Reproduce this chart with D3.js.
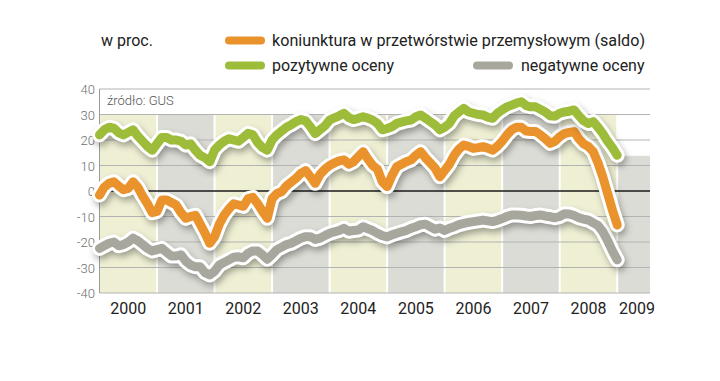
<!DOCTYPE html>
<html><head><meta charset="utf-8">
<script src="https://cdn.jsdelivr.net/npm/d3@7"></script>
<style>body{margin:0;background:#fff}svg{display:block}text{font-family:Roboto,"Open Sans",sans-serif}</style>
</head><body>
<svg id="c" width="720" height="381"></svg>
<script>
const years = [2000,2001,2002,2003,2004,2005,2006,2007,2008,2009];
const yTicks = [-40,-30,-20,-10,0,10,20,30,40];
const seriesNames = ["koniunktura w przetwórstwie przemysłowym (saldo)","pozytywne oceny","negatywne oceny"];
// monthly, Jan 2000 .. Jan 2009
const koniunktura = [-1.6,1.5,3,3.6,2,0.5,1,3.6,1.5,-2,-5,-8.5,
 -8,-3.5,-3.5,-4.5,-5.5,-8.5,-10.7,-10,-9.5,-13,-16.5,-20.5,
 -18,-13,-9.5,-7,-5,-5.5,-6,-3,-2.5,-5,-8,-10.7,
 -3,-1,-0.3,2,3.5,5,6.9,8,5.6,3,6.5,8.5,
 10,11,11.8,12.2,10.5,11.5,13.5,15.4,12.5,10,8.5,3.6,
 1.7,6,9.5,10.5,11.5,12.2,14,15.4,13,11,9,5.6,
 8,10.5,14,16.5,18,17.5,16.7,17,17.4,16.8,16,17.5,
 19.5,22,24,25,25,23.5,23.3,23.3,22,20.5,18.7,19.5,
 21.3,22.5,23,23.3,20.5,18.5,17.4,15.4,11,5.5,-1,-7.5,-13.3];
const pozytywne = [22,24,25,24.6,22.8,22,23,24,21.5,19.5,17.5,16,
 18.5,21,21,20,20,19.5,18,18.5,16,14,13,11.5,
 16,18,19.5,20.5,20,19.5,21,22.6,22,19,17,16,
 20,22,23.5,25,26,27.2,28,27.5,25.2,22.5,24,25.5,
 27.8,28.7,29.5,30.5,28.8,28,28.5,29.1,28.6,27.8,26.5,24,
 24.5,25.2,26.5,27,27.5,27.8,29.1,29.8,28.5,27.2,25.9,24,
 25,26.5,29.5,31,32.4,31,30.5,30,29.8,29,28.5,30.5,
 31.8,33,33.7,34.5,35,33.5,33,33,32,31,29.5,29.3,
 30.5,31,31.3,31.8,29.5,27.5,26.5,27.2,25,22.5,19.5,17,14];
const negatywne = [-22.5,-21.5,-20.5,-20,-21.5,-21,-20,-18.5,-19.5,-21,-22.5,-23.5,
 -23,-22.5,-24,-25.5,-25.5,-25,-27.5,-29,-29.7,-29.7,-32,-32.9,
 -31.5,-29,-28,-27,-26,-25.8,-26.2,-24.4,-23.5,-23.5,-25,-26.8,
 -25,-23,-22,-21,-20.5,-19.5,-18.5,-17.9,-17.9,-19,-18.5,-17.5,
 -16.6,-16,-15.5,-14.6,-15.8,-15.5,-15.3,-14,-14.8,-15.5,-16.6,-17.5,
 -18,-17.2,-16.6,-16,-15.5,-14.6,-14,-13.2,-13,-14,-15,-14.5,
 -15.5,-14.6,-14,-13.2,-12.7,-12.3,-12,-11.7,-11.4,-11.7,-12,-11.5,
 -10.8,-10,-9.4,-9.4,-9.5,-9.8,-10,-9.6,-9.4,-9.8,-10.1,-10.5,
 -10,-8.9,-9,-9.6,-10.5,-11,-11.4,-12.5,-13.5,-16,-19.5,-23.5,-27];

const svg = d3.select("#c");
const X0 = 99.5, X1 = 650;
const x = d3.scaleLinear().domain([2000, 2009.57]).range([X0, X1]);
const y = d3.scaleLinear().domain([-40, 40]).range([293, 89]);

const defs = svg.append("defs");
const f = defs.append("filter").attr("id","blur").attr("x","-10%").attr("y","-20%").attr("width","120%").attr("height","140%");
f.append("feGaussianBlur").attr("stdDeviation", 3.5);

// bands
years.forEach((yr, i) => {
  const top = yr === 2009 ? 13.8 : 30;
  const x0 = x(yr) + (i === 0 ? 0 : 1);
  const x1 = Math.min(x(yr + 1), X1) - (yr === 2009 ? 0 : 1);
  svg.append("rect").attr("x", x0).attr("y", y(top)).attr("width", x1 - x0).attr("height", y(-40) - y(top))
    .attr("fill", i % 2 === 0 ? "#eeefd3" : "#dcdcd6");
});

// grid
svg.append("g").selectAll("line").data(yTicks).join("line")
  .attr("x1", X0).attr("x2", X1).attr("y1", d => y(d)).attr("y2", d => y(d))
  .attr("stroke", d => d === 0 ? "#1a1a1a" : "#b3b3b3").attr("stroke-width", d => d === 0 ? 1.6 : 1);
svg.append("line").attr("x1", X0).attr("x2", X0).attr("y1", y(40)).attr("y2", y(-40)).attr("stroke", "#9a9a9a");

// y labels
svg.append("g").selectAll("text").data(yTicks).join("text")
  .attr("x", 95).attr("y", d => y(d) + 5).attr("text-anchor", "end")
  .attr("font-size", 13).attr("fill", "#6e6e6e").attr("font-weight", 300).text(d => d);

// x labels
svg.append("g").selectAll("text").data(years).join("text")
  .attr("x", d => d === 2009 ? 637 : x(d + 0.5)).attr("y", 314).attr("text-anchor", "middle")
  .attr("font-size", 16).attr("fill", "#222").text(d => d);

svg.append("text").attr("x", 107).attr("y", 105).attr("font-size", 13).attr("fill", "#555").attr("font-weight", 300).text("źródło: GUS");

// lines
const line = d3.line().x((d, i) => x(2000 + i / 12)).y(d => y(d)).curve(d3.curveLinear);
const series = [
  {v: negatywne, c: "#a8a79e"},
  {v: koniunktura, c: "#ea922b"},
  {v: pozytywne, c: "#9dbc3a"}
];
series.forEach(s => {
  const g = svg.append("g");
  g.append("path").attr("d", line(s.v)).attr("fill", "none").attr("stroke", "#000").attr("stroke-opacity", 0.35)
    .attr("stroke-width", 14).attr("stroke-linejoin", "round").attr("stroke-linecap", "round")
    .attr("transform", "translate(2,4)").attr("filter", "url(#blur)");
  g.append("path").attr("d", line(s.v)).attr("fill", "none").attr("stroke", "#fff")
    .attr("stroke-width", 15).attr("stroke-linejoin", "round").attr("stroke-linecap", "round");
  g.append("path").attr("d", line(s.v)).attr("fill", "none").attr("stroke", s.c)
    .attr("stroke-width", 9).attr("stroke-linejoin", "round").attr("stroke-linecap", "round");
});

// legend
svg.append("text").attr("x", 101).attr("y", 46).attr("font-size", 16).attr("fill", "#222").text("w proc.");
const leg = [
  {sx: 229, sy: 40.5, tx: 272, ty: 46, c: "#ea922b", t: seriesNames[0], w: 373},
  {sx: 229, sy: 65.5, tx: 272, ty: 71, c: "#9dbc3a", t: seriesNames[1]},
  {sx: 477, sy: 65.5, tx: 521, ty: 71, c: "#a8a79e", t: seriesNames[2]}
];
leg.forEach(l => {
  svg.append("line").attr("x1", l.sx).attr("x2", l.sx + 32).attr("y1", l.sy).attr("y2", l.sy)
    .attr("stroke", l.c).attr("stroke-width", 8).attr("stroke-linecap", "round");
  const t = svg.append("text").attr("x", l.tx).attr("y", l.ty).attr("font-size", 16).attr("fill", "#222").text(l.t);
  if (l.w) t.attr("textLength", l.w).attr("lengthAdjust", "spacingAndGlyphs");
});
</script>
</body></html>
